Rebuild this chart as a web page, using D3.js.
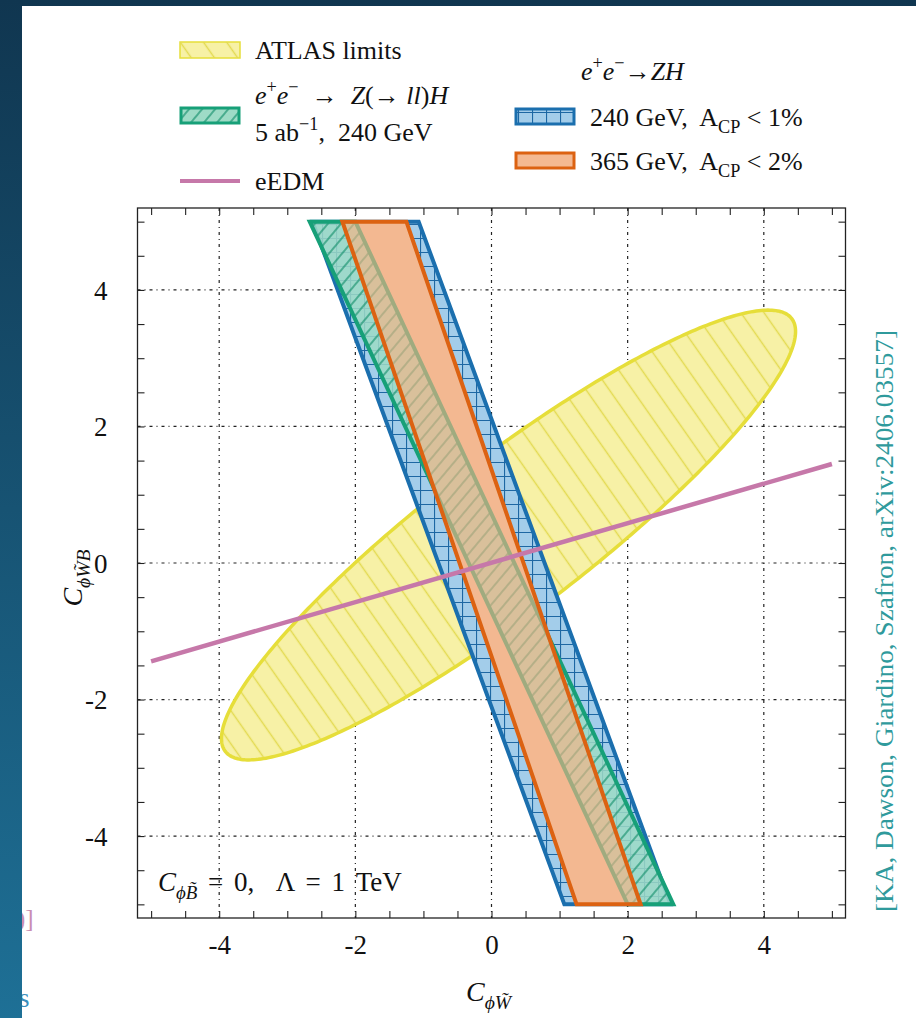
<!DOCTYPE html>
<html>
<head>
<meta charset="utf-8">
<script src="https://cdn.jsdelivr.net/npm/d3@7"></script>
<style>
  html, body { margin: 0; padding: 0; background: #ffffff; }
  svg { display: block; }
  text { font-family: "Liberation Serif", "DejaVu Serif", serif; fill: #111; }
</style>
</head>
<body>
<svg id="chart" width="916" height="1018"></svg>
<script>
// ---- data -------------------------------------------------------------
const xTickValues = [-4, -2, 0, 2, 4];
const yTickValues = [-4, -2, 0, 2, 4];
const axisDomain = [-5.2, 5.2];

// bands: x extent at the top edge (y = 5) and bottom edge (y = -5)
const bandEdgesY = [5, -5];
const band240Top = [-2.63, -1.07];
const band240Bottom = [1.07, 2.63];
const bandZllTop = [-2.67, -2.0];
const bandZllBottom = [2.0, 2.67];
const band365Top = [-2.19, -1.25];
const band365Bottom = [1.25, 2.19];

// ATLAS ellipse
const atlasCenter = [0.25, 0.41];
const atlasSemiAxes = [5.23, 1.13];
const atlasTiltDeg = 37.3;

// eEDM line
const eedmX = [-5, 5];
const eedmY = [-1.44, 1.45];

// ---- layout -----------------------------------------------------------
const svg = d3.select("#chart");
const W = 916, H = 1018;
const plot = { left: 137.5, right: 845.5, top: 208, bottom: 918 };
const SERIF = '"Liberation Serif", "DejaVu Serif", serif';

const x = d3.scaleLinear().domain(axisDomain).range([plot.left, plot.right]);
const y = d3.scaleLinear().domain(axisDomain).range([plot.bottom, plot.top]);

const colors = {
  blueFill: "#a3cdea", blueLine: "#1b6fae", blueHatch: "#1d67a3",
  greenFill: "#9edbc6", greenLine: "#17a078", greenHatch: "#1b9370",
  orangeBase: "#efc3a6", orangeFill: "#f6b285", orangeLegend: "#f4b992", orangeLine: "#dc6212",
  yellowFill: "#f7f1a6", yellowLine: "#e6de3a", yellowHatch: "#e3da52",
  pink: "#c678a9"
};

const defs = svg.append("defs");

// slide backdrop
const grad = defs.append("linearGradient").attr("id", "slideGrad")
  .attr("x1", 0).attr("y1", 0).attr("x2", 0).attr("y2", 1);
grad.append("stop").attr("offset", "0%").attr("stop-color", "#103650");
grad.append("stop").attr("offset", "100%").attr("stop-color", "#1e7096");

// hatch patterns
function linePattern(id, spacing, angle, color, width) {
  const p = defs.append("pattern").attr("id", id)
    .attr("patternUnits", "userSpaceOnUse")
    .attr("width", spacing).attr("height", spacing)
    .attr("patternTransform", `rotate(${angle})`);
  p.append("line").attr("x1", spacing / 2).attr("y1", 0).attr("x2", spacing / 2).attr("y2", spacing)
    .attr("stroke", color).attr("stroke-width", width);
}
linePattern("hatchYellow", 19, -35, colors.yellowHatch, 1.5);
linePattern("hatchGreen", 10, 40, colors.greenHatch, 1.3);

const grid = defs.append("pattern").attr("id", "hatchBlue")
  .attr("patternUnits", "userSpaceOnUse").attr("width", 14).attr("height", 14);
grid.append("path").attr("d", "M0,0.5 H14 M0.5,0 V14")
  .attr("stroke", colors.blueHatch).attr("stroke-width", 1.2).attr("fill", "none");

svg.append("rect").attr("width", W).attr("height", H).attr("fill", "url(#slideGrad)");
svg.append("rect").attr("x", 22).attr("y", 6).attr("width", W - 22).attr("height", H - 6).attr("fill", "#ffffff");

// fragments of neighbouring slide text peeking out at the left edge
svg.append("text").attr("x", 17).attr("y", 927).attr("font-size", 25)
  .style("fill", "#c98db2").text(")]");
svg.append("text").attr("x", 19).attr("y", 1007).attr("font-size", 27)
  .style("fill", "#3a8fbd").text("s");
svg.append("rect").attr("x", 0).attr("y", 0).attr("width", 22).attr("height", H).attr("fill", "url(#slideGrad)");

// ---- plot -------------------------------------------------------------
defs.append("clipPath").attr("id", "plotClip").append("rect")
  .attr("x", plot.left).attr("y", plot.top)
  .attr("width", plot.right - plot.left).attr("height", plot.bottom - plot.top);

const g = svg.append("g");
const inner = g.append("g").attr("clip-path", "url(#plotClip)");

// grid lines at major ticks
const gridG = inner.append("g").attr("stroke", "#222").attr("stroke-width", 1.2)
  .attr("stroke-dasharray", "3,4,1,4");
xTickValues.forEach(v => gridG.append("line")
  .attr("x1", x(v)).attr("x2", x(v)).attr("y1", plot.top).attr("y2", plot.bottom));
yTickValues.forEach(v => gridG.append("line")
  .attr("y1", y(v)).attr("y2", y(v)).attr("x1", plot.left).attr("x2", plot.right));

// ATLAS ellipse
const phi = atlasTiltDeg * Math.PI / 180;
const ellipsePts = d3.range(0, 360, 1).map(deg => {
  const t = deg * Math.PI / 180;
  const ex = atlasSemiAxes[0] * Math.cos(t), ey = atlasSemiAxes[1] * Math.sin(t);
  return [atlasCenter[0] + ex * Math.cos(phi) - ey * Math.sin(phi),
          atlasCenter[1] + ex * Math.sin(phi) + ey * Math.cos(phi)];
});
const closedLine = d3.line().x(d => x(d[0])).y(d => y(d[1])).curve(d3.curveLinearClosed);
inner.append("path").attr("d", closedLine(ellipsePts)).attr("fill", colors.yellowFill);
inner.append("path").attr("d", closedLine(ellipsePts)).attr("fill", "url(#hatchYellow)");
inner.append("path").attr("d", closedLine(ellipsePts)).attr("fill", "none")
  .attr("stroke", colors.yellowLine).attr("stroke-width", 3.5);

function bandPoly(top, bottom) {
  return [[top[0], bandEdgesY[0]], [top[1], bandEdgesY[0]],
          [bottom[1], bandEdgesY[1]], [bottom[0], bandEdgesY[1]]];
}
const b240 = bandPoly(band240Top, band240Bottom);
const bZll = bandPoly(bandZllTop, bandZllBottom);
const b365 = bandPoly(band365Top, band365Bottom);

// 240 GeV, A_CP < 1%
inner.append("path").attr("d", closedLine(b240)).attr("fill", colors.blueFill);
inner.append("path").attr("d", closedLine(b240)).attr("fill", "url(#hatchBlue)");
inner.append("path").attr("d", closedLine(b240)).attr("fill", "none")
  .attr("stroke", colors.blueLine).attr("stroke-width", 4);

// 365 GeV base layer (hides the grid underneath)
inner.append("path").attr("d", closedLine(b365)).attr("fill", colors.orangeBase);

// e+e- -> Z(->ll)H
inner.append("path").attr("d", closedLine(bZll)).attr("fill", colors.greenFill).attr("fill-opacity", 0.85);
inner.append("path").attr("d", closedLine(bZll)).attr("fill", "url(#hatchGreen)");
inner.append("path").attr("d", closedLine(bZll)).attr("fill", "none")
  .attr("stroke", colors.greenLine).attr("stroke-width", 4);

// 365 GeV, A_CP < 2% translucent layer and outline
inner.append("path").attr("d", closedLine(b365)).attr("fill", colors.orangeFill).attr("fill-opacity", 0.62);
inner.append("path").attr("d", closedLine(b365)).attr("fill", "none")
  .attr("stroke", colors.orangeLine).attr("stroke-width", 4);

// eEDM
inner.append("path")
  .attr("d", d3.line().x(d => x(d[0])).y(d => y(d[1]))(eedmX.map((v, i) => [v, eedmY[i]])))
  .attr("stroke", colors.pink).attr("stroke-width", 4.5).attr("fill", "none");

// ---- axes -------------------------------------------------------------
const minorTicks = d3.range(-5, 5.01, 0.5);
const tickLen = 7;
function tickStyle(sel) {
  sel.select(".domain").remove();
  sel.selectAll(".tick line").attr("stroke", "#222").attr("stroke-width", 1.1);
}
g.append("g").attr("transform", `translate(0,${plot.bottom})`)
  .call(d3.axisBottom(x).tickValues(minorTicks).tickSize(-tickLen).tickFormat("")).call(tickStyle);
g.append("g").attr("transform", `translate(0,${plot.top})`)
  .call(d3.axisTop(x).tickValues(minorTicks).tickSize(-tickLen).tickFormat("")).call(tickStyle);
g.append("g").attr("transform", `translate(${plot.left},0)`)
  .call(d3.axisLeft(y).tickValues(minorTicks).tickSize(-tickLen).tickFormat("")).call(tickStyle);
g.append("g").attr("transform", `translate(${plot.right},0)`)
  .call(d3.axisRight(y).tickValues(minorTicks).tickSize(-tickLen).tickFormat("")).call(tickStyle);
g.append("rect").attr("x", plot.left).attr("y", plot.top)
  .attr("width", plot.right - plot.left).attr("height", plot.bottom - plot.top)
  .attr("fill", "none").attr("stroke", "#222").attr("stroke-width", 1.3);

const fmt = v => (v < 0 ? "-" + Math.abs(v) : String(v));
const xLab = g.append("g").attr("transform", `translate(0,${plot.bottom})`)
  .call(d3.axisBottom(x).tickValues(xTickValues).tickSize(0).tickPadding(0).tickFormat(fmt));
xLab.select(".domain").remove();
xLab.selectAll("text").attr("y", 36).attr("dy", null)
  .attr("font-size", 27).style("font-family", SERIF).style("fill", "#111");

const yLab = g.append("g").attr("transform", `translate(${plot.left},0)`)
  .call(d3.axisLeft(y).tickValues(yTickValues).tickSize(0).tickPadding(0).tickFormat(fmt));
yLab.select(".domain").remove();
yLab.selectAll("text").attr("x", -30).attr("dy", "0.34em")
  .attr("font-size", 27).style("font-family", SERIF).style("fill", "#111");

// ---- rich text helper -------------------------------------------------
function rich(parent, px, py, parts, size, anchor) {
  const t = parent.append("text").attr("x", px).attr("y", py).attr("font-size", size)
    .style("font-family", SERIF);
  if (anchor) t.attr("text-anchor", anchor);
  let cur = 0;
  parts.forEach(p => {
    const shift = p.sup ? -0.42 * size : p.sub ? 0.28 * size : 0;
    const ts = t.append("tspan").attr("dy", shift - cur).text(p.t);
    cur = shift;
    if (p.sup || p.sub) ts.attr("font-size", size * 0.7);
    if (p.it) ts.attr("font-style", "italic");
  });
  return t;
}

// axis titles
rich(svg, 466, 1001, [{ t: "C", it: true }, { t: "\u03D5W\u0303", it: true, sub: true }], 28);
const yTitle = svg.append("g").attr("transform", "translate(82,578) rotate(-90)");
rich(yTitle, 0, 0, [{ t: "C", it: true }, { t: "\u03D5W\u0303B", it: true, sub: true }], 28, "middle");

// annotation inside the frame
rich(svg, 158, 891, [
  { t: "C", it: true }, { t: "\u03D5B\u0303", it: true, sub: true },
  { t: " = 0,  \u039B = 1 TeV" }], 27).style("word-spacing", "4px").style("white-space", "pre");

// citation
svg.append("text").attr("transform", "translate(893,621) rotate(-90)")
  .attr("text-anchor", "middle").attr("font-size", 25)
  .attr("textLength", 582).attr("lengthAdjust", "spacingAndGlyphs")
  .style("font-family", SERIF)
  .style("fill", "#2f9a9c").text("[KA, Dawson, Giardino, Szafron, arXiv:2406.03557]");

// ---- legends ----------------------------------------------------------
const leg = svg.append("g");
const fs = 26;

// ATLAS limits
leg.append("rect").attr("x", 180).attr("y", 42).attr("width", 60).attr("height", 16)
  .attr("fill", colors.yellowFill).attr("stroke", colors.yellowLine).attr("stroke-width", 1.5);
leg.append("rect").attr("x", 180).attr("y", 42).attr("width", 60).attr("height", 16)
  .attr("fill", "url(#hatchYellow)");
rich(leg, 255, 59, [{ t: "ATLAS limits" }], fs);

// Z(->ll)H
leg.append("rect").attr("x", 181).attr("y", 108).attr("width", 58).attr("height", 15)
  .attr("fill", colors.greenFill);
leg.append("rect").attr("x", 181).attr("y", 108).attr("width", 58).attr("height", 15)
  .attr("fill", "url(#hatchGreen)").attr("stroke", colors.greenLine).attr("stroke-width", 3);
rich(leg, 255, 104, [
  { t: "e", it: true }, { t: "+", sup: true }, { t: "e", it: true }, { t: "\u2212", sup: true },
  { t: "  \u2192  " }, { t: "Z", it: true }, { t: "(\u2192 " }, { t: "ll", it: true }, { t: ")" },
  { t: "H", it: true }], fs).style("white-space", "pre");
rich(leg, 255, 141, [{ t: "5 ab" }, { t: "\u22121", sup: true }, { t: ",  240 GeV" }], fs)
  .style("white-space", "pre");

// eEDM
leg.append("line").attr("x1", 180).attr("x2", 240).attr("y1", 181).attr("y2", 181)
  .attr("stroke", colors.pink).attr("stroke-width", 4);
rich(leg, 255, 190, [{ t: "eEDM" }], fs);

// e+e- -> ZH
rich(leg, 581, 80, [
  { t: "e", it: true }, { t: "+", sup: true }, { t: "e", it: true }, { t: "\u2212", sup: true },
  { t: "\u2192" }, { t: "ZH", it: true }], fs);

leg.append("rect").attr("x", 516).attr("y", 109).attr("width", 58).attr("height", 15)
  .attr("fill", colors.blueFill);
leg.append("rect").attr("x", 516).attr("y", 109).attr("width", 58).attr("height", 15)
  .attr("fill", "url(#hatchBlue)").attr("stroke", colors.blueLine).attr("stroke-width", 3);
rich(leg, 590, 126, [{ t: "240 GeV,  A" }, { t: "CP", sub: true }, { t: " < 1%" }], fs)
  .style("white-space", "pre");

leg.append("rect").attr("x", 516).attr("y", 153).attr("width", 58).attr("height", 15)
  .attr("fill", colors.orangeLegend).attr("stroke", colors.orangeLine).attr("stroke-width", 3);
rich(leg, 590, 170, [{ t: "365 GeV,  A" }, { t: "CP", sub: true }, { t: " < 2%" }], fs)
  .style("white-space", "pre");
</script>
</body>
</html>
